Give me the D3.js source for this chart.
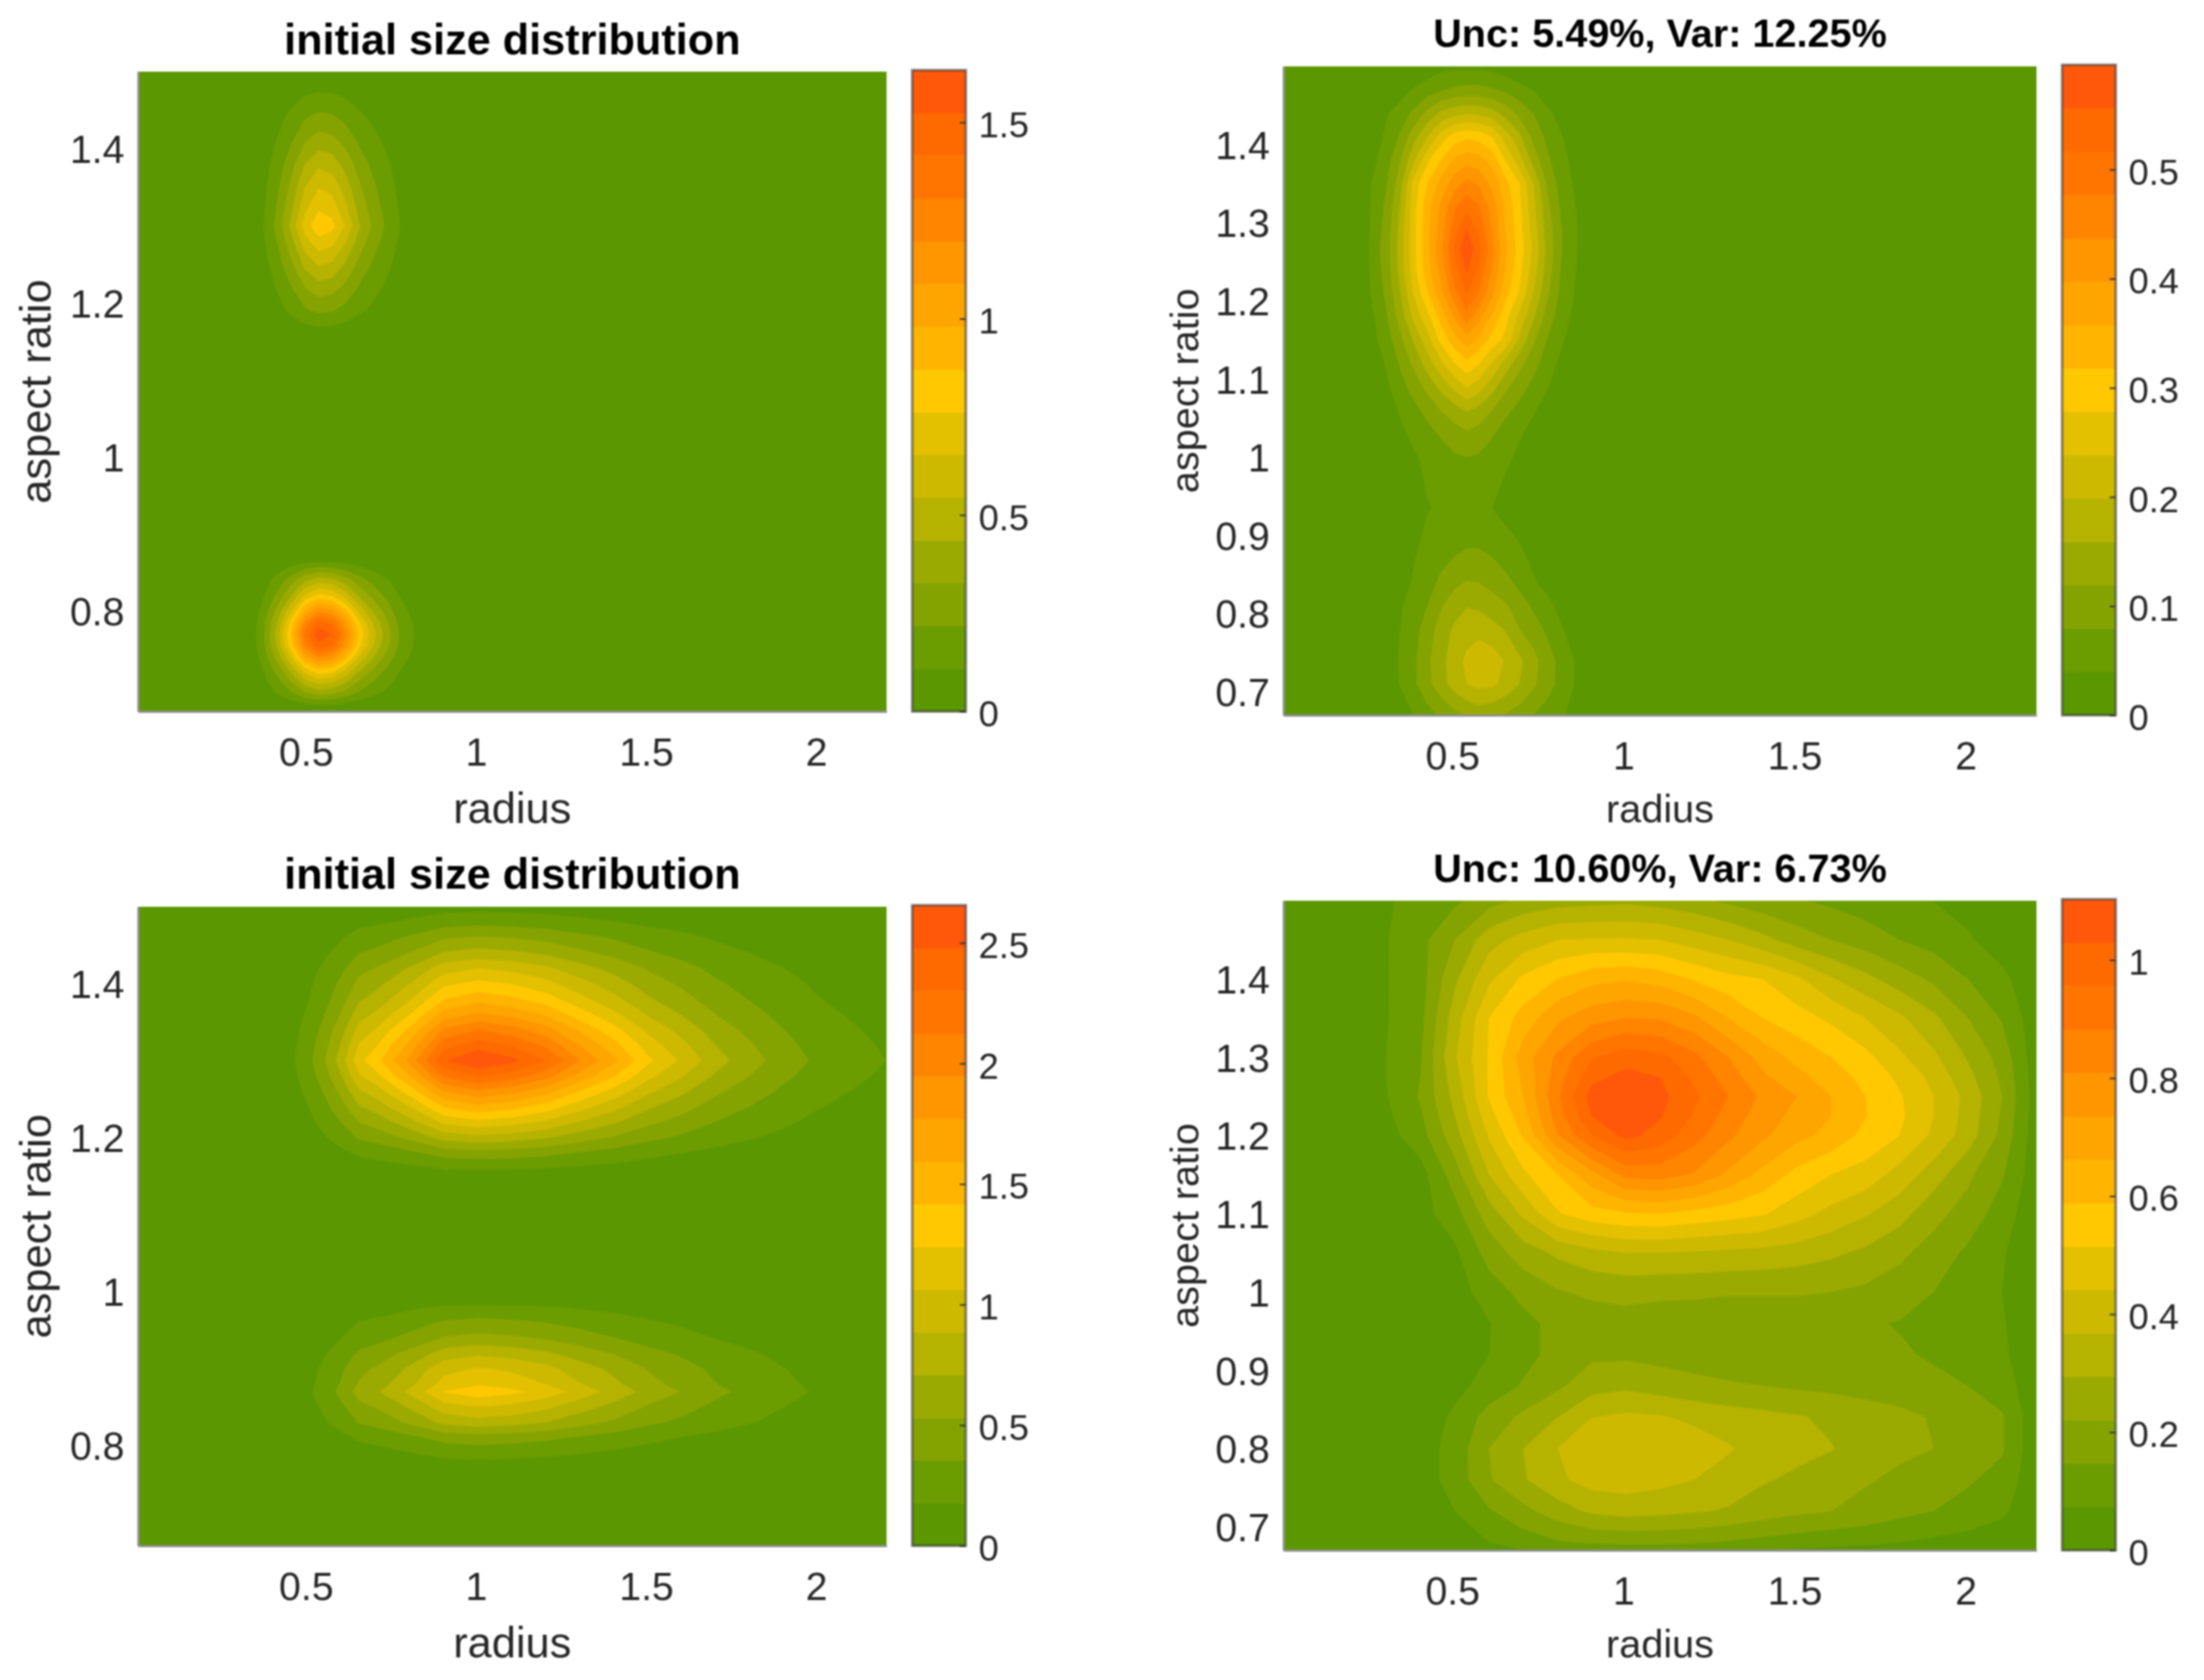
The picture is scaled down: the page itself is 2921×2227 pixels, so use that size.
<!DOCTYPE html>
<html>
<head>
<meta charset="utf-8">
<script src="https://cdn.jsdelivr.net/npm/d3@7"></script>
<style>
  html, body { margin: 0; background: #fff; }
  svg { display: block; filter: blur(0.8px); font-family: "Liberation Sans", Arial, sans-serif; }
</style>
</head>
<body>
<script>
/*----- Shared axis values -----*/
const radiusDomain = [0, 2.2];
const aspectDomain = [0.67, 1.5];
const radiusTicks = [0.5, 1, 1.5, 2];
const aspectTicksCoarse = [0.8, 1, 1.2, 1.4];
const aspectTicksFine = [0.7, 0.8, 0.9, 1, 1.1, 1.2, 1.3, 1.4];

// colorbar has 15 equal bands, bottom to top
const bandColors = ["#5b9700", "#6b9c00", "#85a300", "#9baa00", "#b5b200", "#cdb900", "#e3c000", "#ffc800",
  "#ffb400", "#ffa500", "#ff9600", "#ff8400", "#ff7500", "#ff6a00", "#ff580a"];

/*----- Top left: initial distribution, radius profile x aspect profile -----*/
const tlRadius = [0, 0.30, 0.34, 0.37, 0.41, 0.45, 0.49, 0.53, 0.57, 0.61, 0.65, 0.69, 0.73, 0.77, 0.81, 0.85, 2.2];
const tlRadiusWeight = [0, 0, 0.05, 0.135, 0.31, 0.55, 0.84, 1, 0.95, 0.76, 0.53, 0.37, 0.24, 0.13, 0.07, 0, 0];
const tlAspect = [1.5, 1.47, 1.44, 1.41, 1.38, 1.35, 1.32, 1.30, 1.28, 1.25, 1.22, 1.19, 1.17, 1.15,
  0.88, 0.87, 0.86, 0.84, 0.82, 0.80, 0.785, 0.77, 0.755, 0.74, 0.725, 0.71, 0.695, 0.68, 0.67];
const tlAspectDensity = [0, 0.125, 0.25, 0.38, 0.52, 0.65, 0.76, 0.84, 0.73, 0.555, 0.39, 0.24, 0.114, 0,
  0, 0.011, 0.174, 0.5, 0.8, 1.18, 1.46, 1.6, 1.49, 1.2, 0.88, 0.62, 0.39, 0.13, 0.033];
const tlMax = 1.633;
const tlBarTicks = [0, 0.5, 1, 1.5];

/*----- Bottom left: initial distribution, radius profile x aspect profile -----*/
const blRadius = [0, 0.42, 0.46, 0.5, 0.55, 0.6, 0.65, 0.7, 0.8, 0.9, 1, 1.1, 1.2, 1.3, 1.4, 1.5, 1.6, 1.7, 1.8, 1.9, 2, 2.1, 2.2];
const blRadiusWeight = [0, 0, 0.067, 0.113, 0.2, 0.31, 0.45, 0.51, 0.69, 0.93, 1, 0.953, 0.867, 0.733, 0.613, 0.48, 0.387, 0.293, 0.227, 0.167, 0.12, 0.09, 0.066];
const blAspect = [1.5, 1.48, 1.46, 1.44, 1.42, 1.40, 1.38, 1.36, 1.34, 1.32, 1.30, 1.28, 1.26, 1.24, 1.22, 1.20, 1.18, 1.16, 1.14, 1.12,
  1.0, 0.99, 0.98, 0.96, 0.94, 0.92, 0.90, 0.88, 0.87, 0.85, 0.83, 0.81, 0.79, 0.77, 0.75, 0.67];
const blAspectDensity = [0.12, 0.3, 0.55, 0.78, 1.062, 1.292, 1.522, 1.805, 2.124, 2.407, 2.655, 2.319, 1.912, 1.54, 1.186, 0.832, 0.46, 0.2, 0.05, 0,
  0, 0.06, 0.22, 0.407, 0.584, 0.85, 1.08, 1.22, 1.345, 1.062, 0.814, 0.443, 0.248, 0.08, 0, 0];
const blMax = 2.656;
const blBarTicks = [0, 0.5, 1, 1.5, 2, 2.5];

/*----- Top right: values read in colorbar bands (1 = one band of 15) -----*/
const trRadius = [0, 0.22, 0.26, 0.30, 0.34, 0.38, 0.42, 0.46, 0.50, 0.535, 0.57, 0.61, 0.65, 0.69, 0.73, 0.77, 0.81, 0.85, 0.89, 2.2];
const trAspect = [1.5, 1.47, 1.44, 1.41, 1.38, 1.35, 1.32, 1.29, 1.266, 1.24, 1.21, 1.18, 1.15, 1.12, 1.09, 1.06, 1.03, 1.0, 0.97, 0.935, 0.90, 0.87, 0.84, 0.81, 0.78, 0.74, 0.71, 0.67];
const trBands = [
  [0, 0, 0, 0, 0, 0, 0.4, 0.7, 0.8, 0.8, 0.8, 0.7, 0.4, 0, 0, 0, 0, 0, 0, 0],
  [0, 0, 0, 0, 0.5, 1.1, 1.5, 1.9, 2.2, 2.3, 2.3, 2.1, 1.8, 1.4, 1, 0.5, 0.2, 0, 0, 0],
  [0, 0, 0, 0.9, 1.5, 2.2, 3.3, 4.2, 4.7, 4.9, 4.8, 4.4, 3.6, 2.7, 2, 1.2, 0.7, 0.2, 0, 0],
  [0, 0, 0.4, 1.2, 2.1, 3.6, 5, 6.5, 7.5, 7.8, 7.7, 7, 5.5, 4.2, 2.7, 1.8, 1.1, 0.5, 0.1, 0],
  [0, 0, 0.7, 1.6, 2.9, 4.8, 6.8, 8, 9.2, 9.6, 9.4, 8.6, 6.9, 5.4, 3.6, 2.2, 1.4, 0.7, 0.1, 0],
  [0, 0, 1.1, 1.9, 3.5, 6.4, 8, 9.4, 10.6, 11.3, 10.9, 9.7, 8.3, 7, 5, 2.9, 1.6, 0.9, 0.2, 0],
  [0, 0, 1.2, 2.2, 4, 6.6, 8.6, 10.2, 11.9, 12.8, 12.1, 10.6, 8.8, 7.2, 5.3, 3.3, 1.9, 1.1, 0.3, 0],
  [0, 0, 1.3, 2.4, 4.3, 6.7, 8.7, 10.5, 12.6, 14.1, 12.9, 10.9, 8.9, 7.4, 5.6, 3.6, 2.1, 1.2, 0.3, 0],
  [0, 0, 1.4, 2.5, 4.4, 6.7, 8.7, 10.7, 13.2, 14.9, 13.4, 11.3, 9.1, 7.5, 5.8, 3.8, 2.1, 1.2, 0.3, 0],
  [0, 0, 1.3, 2.4, 4.3, 6.6, 8.6, 10.4, 12.6, 14.2, 12.9, 10.9, 8.9, 7.3, 5.5, 3.6, 2, 1.1, 0.3, 0],
  [0, 0, 1.2, 2.2, 3.9, 6.1, 7.9, 9.7, 11.7, 13.1, 12, 10.2, 8.3, 6.9, 5, 3.2, 1.8, 1, 0.2, 0],
  [0, 0, 0.9, 1.9, 3.4, 5.3, 6.7, 8.4, 10.2, 11.6, 10.4, 8.8, 7.3, 5.7, 4.2, 2.6, 1.5, 0.8, 0.1, 0],
  [0, 0, 0.7, 1.5, 2.7, 4.1, 5.6, 7.3, 8.6, 9.6, 8.8, 7.6, 6.7, 4.8, 3.2, 2, 1.2, 0.5, 0, 0],
  [0, 0, 0.4, 1.1, 2.1, 3.2, 4.5, 5.8, 7, 7.7, 7.1, 5.9, 4.6, 3.3, 2.4, 1.5, 0.8, 0.2, 0, 0],
  [0, 0, 0.2, 0.8, 1.6, 2.4, 3.3, 4.3, 5.3, 6.1, 5.5, 4.4, 3.2, 2.4, 1.7, 1.1, 0.4, 0, 0, 0],
  [0, 0, 0, 0.5, 1.1, 1.7, 2.3, 3, 3.6, 4.1, 3.7, 3, 2.2, 1.7, 1.1, 0.6, 0.1, 0, 0, 0],
  [0, 0, 0, 0.2, 0.8, 1.2, 1.7, 2.1, 2.5, 2.8, 2.6, 2.1, 1.6, 1.1, 0.7, 0.2, 0, 0, 0, 0],
  [0, 0, 0, 0, 0.4, 0.9, 1.2, 1.6, 1.9, 2, 1.9, 1.6, 1.2, 0.8, 0.3, 0, 0, 0, 0, 0],
  [0, 0, 0, 0, 0, 0.7, 1.1, 1.3, 1.5, 1.6, 1.5, 1.3, 0.9, 0.3, 0, 0, 0, 0, 0, 0],
  [0, 0, 0, 0, 0, 0.5, 0.95, 1.1, 1.3, 1.3, 1.3, 1.0, 0.6, 0.1, 0, 0, 0, 0, 0, 0],
  [0, 0, 0, 0, 0.1, 0.7, 1.2, 1.5, 1.6, 1.7, 1.7, 1.5, 1.2, 0.9, 0.4, 0, 0, 0, 0, 0],
  [0, 0, 0, 0, 0.4, 0.95, 1.35, 1.75, 2.05, 2.25, 2.25, 2.05, 1.6, 1.2, 0.85, 0.3, 0, 0, 0, 0],
  [0, 0, 0, 0, 0.6, 1.1, 1.6, 2.2, 2.8, 3.05, 3, 2.7, 2.3, 1.7, 1.1, 0.7, 0.2, 0, 0, 0],
  [0, 0, 0, 0, 0.9, 1.4, 2, 2.9, 3.5, 3.95, 3.8, 3.4, 3.1, 2.5, 1.85, 1.3, 0.75, 0.3, 0, 0],
  [0, 0, 0, 0.1, 1, 1.6, 2.5, 3.4, 4.2, 4.6, 4.7, 4.4, 3.9, 3, 2.5, 1.8, 1.1, 0.6, 0.1, 0],
  [0, 0, 0, 0.4, 1.1, 1.8, 2.8, 3.7, 4.6, 5.2, 5.6, 5.5, 4.9, 4.2, 3.3, 2.5, 1.7, 1, 0.2, 0],
  [0, 0, 0, 0.3, 1.05, 1.8, 2.7, 3.6, 4.5, 5, 5.3, 5.2, 4.7, 4, 3.2, 2.4, 1.7, 1, 0.2, 0],
  [0, 0, 0, 0, 0.5, 1, 1.6, 2.2, 2.7, 3.1, 3.4, 3.2, 2.9, 2.5, 2, 1.6, 1.2, 0.6, 0, 0]
];
const trMax = 0.596;
const trBarTicks = [0, 0.1, 0.2, 0.3, 0.4, 0.5];

/*----- Bottom right: values read in colorbar bands (1 = one band of 15) -----*/
const brRadius = [0, 0.3, 0.4, 0.5, 0.6, 0.7, 0.8, 0.9, 1, 1.1, 1.2, 1.3, 1.4, 1.5, 1.6, 1.7, 1.8, 1.9, 2, 2.1, 2.2];
const brAspect = [1.5, 1.45, 1.4, 1.35, 1.3, 1.275, 1.25, 1.225, 1.2, 1.15, 1.1, 1.05, 1.0, 0.96, 0.92, 0.88, 0.84, 0.8, 0.76, 0.72, 0.68, 0.67];
const brBands = [
  [0, 0.85, 1.5, 1.8, 2.6, 3.3, 3.6, 3.7, 3.8, 3.6, 3.3, 2.8, 2.4, 2.1, 1.8, 1.5, 1.3, 1, 0.7, 0.4, 0.1],
  [0, 0.95, 1.7, 3, 4.6, 5.4, 6, 6.1, 6.1, 6, 5.5, 5, 4.3, 3.5, 3, 2.5, 2, 1.6, 1.1, 0.6, 0.1],
  [0, 0.95, 1.6, 3.8, 5.8, 7.2, 8, 8.7, 8.9, 8.6, 7.9, 7.3, 7, 6.2, 5.1, 4.3, 3.5, 2.8, 2, 1.2, 0.4],
  [0, 0.95, 1.7, 4.5, 7, 8.4, 9.8, 10.6, 11, 10.9, 10.2, 9, 8, 7.4, 6.8, 6, 5.2, 4.2, 3, 1.9, 0.4],
  [0, 1, 1.9, 4.9, 7.1, 9.5, 11.2, 12.9, 13.6, 13.3, 12.3, 11, 9.6, 8.7, 8, 7.3, 6.2, 5.2, 3.9, 2.6, 0.4],
  [0, 1, 2, 4.6, 7.1, 9.2, 11.5, 13.7, 14.3, 14, 12.8, 11.5, 10.2, 9.3, 8.5, 7.7, 6.8, 5.7, 4.3, 2.8, 0.45],
  [0, 0.95, 2.1, 4.3, 7.1, 9, 11.8, 14.4, 14.9, 14.3, 13.2, 12, 10.8, 10, 9, 8, 7.1, 6, 4.7, 3, 0.5],
  [0, 0.8, 1.85, 4, 6.6, 8.6, 11.5, 14, 14.7, 14.1, 12.9, 11.6, 10.5, 9.7, 9, 8.05, 7.2, 6, 4.6, 2.85, 0.45],
  [0, 0.6, 1.6, 3.6, 6.1, 8.1, 10.9, 13, 14.3, 13.6, 12.4, 11.2, 10.2, 9.3, 8.7, 7.7, 7, 5.8, 4.5, 2.7, 0.4],
  [0, 0.2, 0.6, 2.5, 5, 6.8, 8, 9.7, 11.3, 11.4, 10.9, 9.8, 8.7, 7.7, 7, 6.6, 5.6, 4.5, 3.2, 2.1, 0.4],
  [0, 0.1, 0.6, 1.6, 3.5, 5.2, 6.9, 7.6, 7.9, 8, 7.7, 7.4, 7.1, 6.4, 5.7, 5.1, 4.4, 3.3, 2.6, 1.5, 0.3],
  [0, 0, 0, 0.8, 2.4, 3.5, 4.2, 4.7, 5, 5, 4.9, 4.8, 4.7, 4.5, 4.2, 3.8, 3.2, 2.6, 1.8, 1.1, 0.25],
  [0, 0, 0, 0.5, 1.5, 2.3, 2.9, 3.2, 3.3, 3.2, 3.2, 3.1, 3.1, 3.1, 3, 2.8, 2.5, 2, 1.5, 1, 0.2],
  [0, 0, 0, 0.5, 0.95, 1.7, 2.3, 2.5, 2.6, 2.5, 2.4, 2.3, 2.3, 2.3, 2.2, 2.1, 1.95, 1.7, 1.4, 1.1, 0.15],
  [0, 0, 0, 0.6, 1, 1.7, 2.3, 2.8, 2.8, 2.7, 2.6, 2.5, 2.45, 2.4, 2.3, 2.2, 2.1, 1.9, 1.6, 1.2, 0.2],
  [0, 0, 0.1, 0.7, 1.4, 2.1, 2.8, 3.6, 3.8, 3.5, 3.25, 3.1, 3, 2.85, 2.75, 2.6, 2.4, 2.2, 2, 1.5, 0.3],
  [0, 0, 0.4, 1.2, 2.4, 3.2, 4, 5, 5.2, 5.1, 4.8, 4.5, 4.3, 4.1, 3.8, 3.5, 3.3, 2.9, 2.4, 2.1, 0.3],
  [0, 0, 0.5, 1.4, 3, 4, 5, 5.6, 5.9, 5.8, 5.5, 5.1, 4.6, 4.3, 4.05, 3.6, 3.2, 3, 2.4, 2.1, 0.3],
  [0, 0, 0.5, 1.4, 2.9, 3.9, 4.8, 5.4, 5.5, 5.3, 5, 4.6, 4.1, 3.8, 3.5, 3.1, 2.8, 2.5, 2.1, 1.7, 0.25],
  [0, 0, 0.3, 1, 1.9, 2.7, 3.5, 4.2, 4.4, 4.3, 4.1, 3.9, 3.5, 3.2, 3, 2.7, 2.3, 2, 1.7, 1.2, 0.2],
  [0, 0, 0, 0.5, 1, 1.5, 1.9, 2.1, 2.2, 2.2, 2.1, 1.9, 1.7, 1.5, 1.3, 1.2, 1, 0.8, 0.6, 0.4, 0.1],
  [0, 0, 0, 0.3, 0.7, 1, 1.2, 1.4, 1.5, 1.4, 1.3, 1.2, 1, 0.9, 0.8, 0.7, 0.5, 0.4, 0.3, 0.2, 0]
];
const brMax = 1.103;
const brBarTicks = [0, 0.2, 0.4, 0.6, 0.8, 1];

const outerProduct = (rowValues, colWeights) => rowValues.map((v) => colWeights.map((w) => v * w));
const bandsToDensity = (rows, max) => rows.map((row) => row.map((v) => v * max / bandColors.length));

const panels = [
  { title: "initial size distribution", radius: tlRadius, aspect: tlAspect, grid: outerProduct(tlAspectDensity, tlRadiusWeight),
    max: tlMax, aspectTicks: aspectTicksCoarse, barTicks: tlBarTicks,
    left: 183, right: 1175, top: 95, bottom: 943, barLeft: 1209, barRight: 1280, barTop: 93,
    tickFont: 52, barFont: 48, labelFont: 57.5, titleFont: 57.3, labelGapY: 116, labelGapX: 148, titleGap: 23 },
  { title: "Unc: 5.49%, Var: 12.25%", radius: trRadius, aspect: trAspect, grid: bandsToDensity(trBands, trMax),
    max: trMax, aspectTicks: aspectTicksFine, barTicks: trBarTicks,
    left: 1701, right: 2699, top: 88, bottom: 948, barLeft: 2733, barRight: 2804, barTop: 86,
    tickFont: 52, barFont: 48, labelFont: 52.5, titleFont: 52.5, labelGapY: 113, labelGapX: 142, titleGap: 26 },
  { title: "initial size distribution", radius: blRadius, aspect: blAspect, grid: outerProduct(blAspectDensity, blRadiusWeight),
    max: blMax, aspectTicks: aspectTicksCoarse, barTicks: blBarTicks,
    left: 183, right: 1175, top: 1202, bottom: 2049, barLeft: 1209, barRight: 1280, barTop: 1200,
    tickFont: 52, barFont: 48, labelFont: 57.5, titleFont: 57.3, labelGapY: 116, labelGapX: 148, titleGap: 24 },
  { title: "Unc: 10.60%, Var: 6.73%", radius: brRadius, aspect: brAspect, grid: bandsToDensity(brBands, brMax),
    max: brMax, aspectTicks: aspectTicksFine, barTicks: brBarTicks,
    left: 1701, right: 2699, top: 1194, bottom: 2055, barLeft: 2733, barRight: 2804, barTop: 1192,
    tickFont: 52, barFont: 48, labelFont: 52.5, titleFont: 52.5, labelGapY: 113, labelGapX: 142, titleGap: 25 }
];

const svg = d3.select("body").append("svg")
  .attr("width", 2921)
  .attr("height", 2227);

// contour output puts value i at i + 0.5, so map that back onto the node positions
const nodeScale = (nodes, toPixel) => {
  const n = nodes.length;
  const domain = [0, ...nodes.map((d, i) => i + 0.5), n];
  const range = [nodes[0], ...nodes, nodes[n - 1]].map(toPixel);
  return d3.scaleLinear().domain(domain).range(range);
};

const styleAxis = (sel, font, dx, dy) => {
  sel.selectAll("text")
    .style("font-size", font + "px")
    .style("fill", "#262626")
    .attr("transform", `translate(${dx},${dy})`);
  sel.select(".domain").style("stroke", "#8f8f8f").style("stroke-width", 3);
};

panels.forEach((p, pi) => {
  const g = svg.append("g");
  const x = d3.scaleLinear().domain(radiusDomain).range([p.left, p.right]);
  const y = d3.scaleLinear().domain(aspectDomain).range([p.bottom, p.top]);
  const step = p.max / bandColors.length;

  /*----- Filled contours -----*/
  g.append("clipPath").attr("id", "clip" + pi).append("rect")
    .attr("x", p.left).attr("y", p.top)
    .attr("width", p.right - p.left).attr("height", p.bottom - p.top);

  const plot = g.append("g").attr("clip-path", `url(#clip${pi})`);
  plot.append("rect")
    .attr("x", p.left).attr("y", p.top)
    .attr("width", p.right - p.left).attr("height", p.bottom - p.top)
    .style("fill", bandColors[0]);

  const cols = p.radius.length;
  const rows = p.aspect.length;
  const thresholds = d3.range(1, bandColors.length).map((i) => i * step);
  const contours = d3.contours().size([cols, rows]).thresholds(thresholds)(d3.merge(p.grid));
  const px = nodeScale(p.radius, x);
  const py = nodeScale(p.aspect, y);
  const path = d3.geoPath();

  plot.selectAll("path").data(contours).enter().append("path")
    .attr("d", (c) => path({
      type: "MultiPolygon",
      coordinates: c.coordinates.map((poly) => poly.map((ring) => ring.map((pt) => [px(pt[0]), py(pt[1])])))
    }))
    .style("fill", (c, i) => bandColors[i + 1]);

  /*----- Axes -----*/
  const xAxis = g.append("g")
    .attr("transform", `translate(0,${p.bottom})`)
    .call(d3.axisBottom(x).tickValues(radiusTicks).tickFormat(String).tickSize(0).tickPadding(35));
  styleAxis(xAxis, p.tickFont, -3, 0);

  const yAxis = g.append("g")
    .attr("transform", `translate(${p.left},0)`)
    .call(d3.axisLeft(y).tickValues(p.aspectTicks).tickFormat(String).tickSize(0).tickPadding(18));
  styleAxis(yAxis, p.tickFont, 0, 2);

  g.append("text")
    .attr("x", (p.left + p.right) / 2)
    .attr("y", p.bottom + p.labelGapX)
    .attr("text-anchor", "middle")
    .style("font-size", p.labelFont + "px")
    .style("fill", "#262626")
    .text("radius");

  g.append("text")
    .attr("transform", `translate(${p.left - p.labelGapY},${(p.top + p.bottom) / 2}) rotate(-90)`)
    .attr("text-anchor", "middle")
    .style("font-size", p.labelFont + "px")
    .style("fill", "#262626")
    .text("aspect ratio");

  g.append("text")
    .attr("x", (p.left + p.right) / 2)
    .attr("y", p.top - p.titleGap)
    .attr("text-anchor", "middle")
    .style("font-size", p.titleFont + "px")
    .style("font-weight", "bold")
    .style("fill", "#000")
    .text(p.title);

  /*----- Colorbar -----*/
  const barY = d3.scaleLinear().domain([0, p.max]).range([p.bottom, p.barTop]);
  g.append("g").selectAll("rect").data(bandColors).enter().append("rect")
    .attr("x", p.barLeft)
    .attr("y", (d, i) => barY((i + 1) * step))
    .attr("width", p.barRight - p.barLeft)
    .attr("height", (d, i) => barY(i * step) - barY((i + 1) * step) + 0.5)
    .style("fill", (d) => d);

  g.append("rect")
    .attr("x", p.barLeft).attr("y", p.barTop)
    .attr("width", p.barRight - p.barLeft).attr("height", p.bottom - p.barTop)
    .style("fill", "none")
    .style("stroke", "rgba(60,60,60,0.6)")
    .style("stroke-width", 3.5);

  const barAxis = g.append("g")
    .attr("transform", `translate(${p.barRight},0)`)
    .call(d3.axisRight(barY).tickValues(p.barTicks).tickFormat(String).tickSize(-8).tickPadding(17));
  barAxis.select(".domain").remove();
  barAxis.selectAll("line").style("stroke", "#333").style("stroke-width", 2);
  barAxis.selectAll("text")
    .style("font-size", p.barFont + "px")
    .style("fill", "#262626")
    .attr("transform", "translate(0,4)");
});
</script>
</body>
</html>
